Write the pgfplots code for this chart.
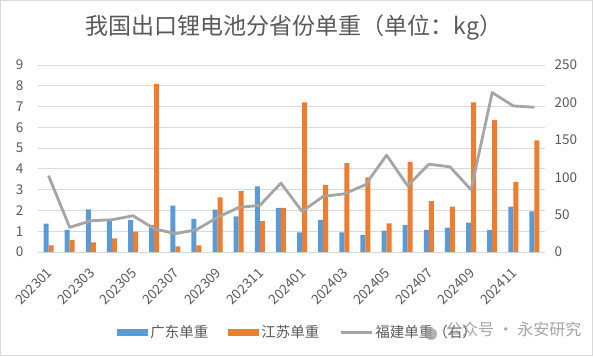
\documentclass[border=0pt]{standalone}
\usepackage{pgfplots}
\usepackage{pgfplotstable}
\pgfplotsset{compat=1.18}
\usepackage{fontspec}
\setmainfont{Noto Sans CJK SC}
\definecolor{cblue}{HTML}{5B9BD5}
\definecolor{corange}{HTML}{ED7D31}
\definecolor{cgray}{HTML}{A5A5A5}
\definecolor{ctext}{HTML}{595959}
\definecolor{cgrid}{HTML}{D9D9D9}

\pgfplotstableread{
x gd js fj
1 1.36 0.32 101.9
2 1.07 0.58 32.9
3 2.05 0.46 41.8
4 1.52 0.66 43.1
5 1.54 0.98 48.5
6 1.31 8.09 31.1
7 2.23 0.27 24.5
8 1.60 0.32 29.8
9 2.04 2.63 46.3
10 1.71 2.93 59.6
11 3.16 1.49 62.3
12 2.12 2.12 92.1
13 0.95 7.20 54.3
14 1.55 3.22 74.3
15 0.95 4.28 77.8
16 0.83 3.59 89.9
17 1.03 1.38 129.4
18 1.30 4.33 88.5
19 1.07 2.45 117.4
20 1.17 2.18 113.9
21 1.41 7.20 83.2
22 1.07 6.36 213.1
23 2.18 3.38 195.3
24 1.96 5.37 193.5
}\datatable

\begin{document}
\begin{tikzpicture}
\path[use as bounding box] (0pt,0pt) rectangle (593pt,356pt);
\draw[cgrid, line width=0.8pt] (0.4pt,0.4pt) rectangle (592.6pt,355.6pt);
\node[font=\fontsize{23}{27}\selectfont, text=ctext] at (294pt,328.5pt) {我国出口锂电池分省份单重（单位：kg）};

\begin{axis}[
  at={(38pt,104pt)}, anchor=south west,
  scale only axis, width=507pt, height=187pt,
  xmin=0.5, xmax=24.5, ymin=0, ymax=9,
  ytick={0,1,...,9},
  xtick={1,3,...,23},
  xticklabels={202301,202303,202305,202307,202309,202311,202401,202403,202405,202407,202409,202411},
  /pgf/number format/assume math mode=true,
  tick label style={font=\fontsize{13.5}{15}\selectfont, text=ctext},
  xticklabel style={xshift=2.9pt, yshift=-18.5pt, rotate=45, anchor=east, text height=7pt, text depth=0pt, inner sep=1pt},
  yticklabel style={anchor=east, xshift=-11pt},
  major tick length=0pt,
  axis x line*=bottom, axis y line*=left,
  y axis line style={draw=none},
  x axis line style={draw=cgrid, line width=0.8pt, -},
  ymajorgrids, grid style={draw=cgrid, line width=0.8pt},
  ybar=0pt, bar width=5pt,
  legend columns=3,
  legend style={at={(0.513,-0.43)}, anchor=center, draw=none, fill=none,
    font=\fontsize{14.5}{16}\selectfont, text=ctext,
    /tikz/every even column/.append style={column sep=18pt},
    inner sep=0pt},
  legend cell align=left,
]
\addplot[fill=cblue, draw=none,
  legend image code/.code={\fill[cblue] (0pt,-3.5pt) rectangle (31pt,3.5pt);}]
  table[x=x,y=gd]{\datatable};
\addlegendentry{广东单重}
\addplot[fill=corange, draw=none,
  legend image code/.code={\fill[corange] (0pt,-3.5pt) rectangle (31pt,3.5pt);}]
  table[x=x,y=js]{\datatable};
\addlegendentry{江苏单重}
\addlegendimage{legend image code/.code={\draw[cgray, line width=3pt] (0pt,0pt) -- (31pt,0pt);}}
\addlegendentry{福建单重（右）}
\end{axis}

\begin{axis}[
  at={(38pt,104pt)}, anchor=south west,
  scale only axis, width=507pt, height=187pt,
  xmin=0.5, xmax=24.5, ymin=0, ymax=250,
  ytick={0,50,...,250},
  axis y line*=right, axis x line=none,
  y axis line style={draw=none},
  major tick length=0pt,
  /pgf/number format/assume math mode=true,
  tick label style={font=\fontsize{13.5}{15}\selectfont, text=ctext},
  yticklabel style={anchor=west, xshift=6pt},
]
\addplot[cgray, line width=2.8pt, line join=round, mark=none] table[x=x,y=fj]{\datatable};
\end{axis}

\fill[black!40, opacity=0.75] (431pt,22pt) circle (6pt);
\node[font=\fontsize{16}{18}\selectfont, text=black!42, opacity=0.85, anchor=west, inner sep=0pt] at (446pt,27pt) {公众号 · 永安研究};
\end{tikzpicture}
\end{document}
